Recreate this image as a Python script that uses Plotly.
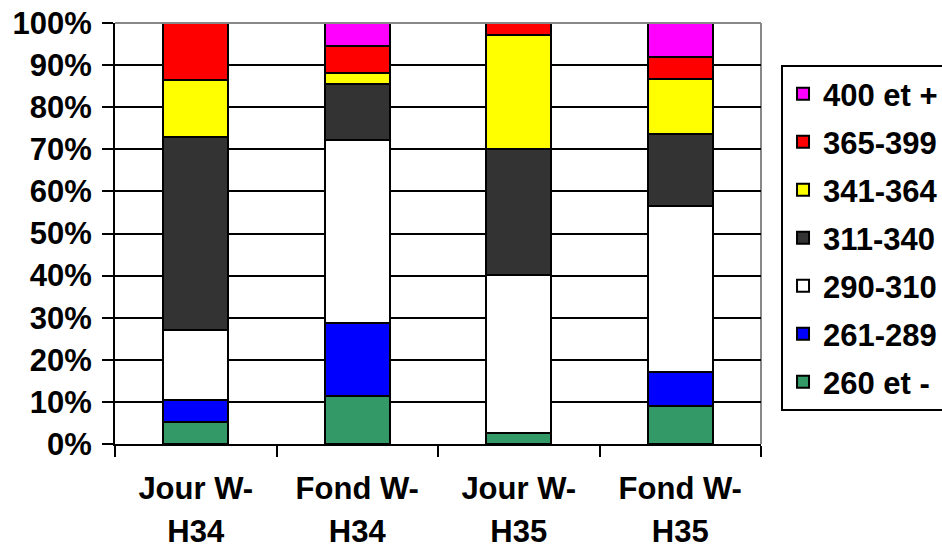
import plotly.graph_objects as go

categories = ["Jour W-<br>H34", "Fond W-<br>H34", "Jour W-<br>H35", "Fond W-<br>H35"]
series_names = ["260 et -", "261-289", "290-310", "311-340", "341-364", "365-399", "400 et +"]
v_260 = [5.2, 11.5, 2.5, 9.0]
v_261_289 = [5.3, 17.3, 0.0, 8.0]
v_290_310 = [16.5, 43.4, 37.7, 39.5]
v_311_340 = [45.9, 13.2, 29.9, 17.1]
v_341_364 = [13.5, 2.7, 27.1, 13.2]
v_365_399 = [13.6, 6.5, 2.8, 5.2]
v_400 = [0.0, 5.4, 0.0, 8.0]
y_ticks = [0, 10, 20, 30, 40, 50, 60, 70, 80, 90, 100]

series_values = [v_260, v_261_289, v_290_310, v_311_340, v_341_364, v_365_399, v_400]
colors = ["#339966", "#0000FF", "#FFFFFF", "#333333", "#FFFF00", "#FF0000", "#FF00FF"]

FAMILY = "Liberation Sans, Arial, sans-serif"
FONT = dict(family=FAMILY, size=31, color="black", weight="bold")
XFONT = dict(family=FAMILY, size=33, color="black", weight="bold")

fig = go.Figure()
n = len(series_names)
for i, (name, vals, col) in enumerate(zip(series_names, series_values, colors)):
    fig.add_trace(go.Bar(
        x=categories, y=vals, name=name, legendgroup=name, legendrank=n - i,
        marker=dict(color=col, line=dict(color="black", width=2)),
    ))

fig.update_layout(
    width=942, height=548,
    margin=dict(l=115, r=181, t=23, b=104, autoexpand=False),
    barmode="stack", bargap=0.6,
    plot_bgcolor="white", paper_bgcolor="white",
    font=FONT,
    showlegend=True,
    legend=dict(
        x=1.031, y=0.9, xanchor="left", yanchor="top",
        bordercolor="black", borderwidth=2, bgcolor="white",
        traceorder="grouped", tracegroupgap=4.7,
        font=FONT,
    ),
    xaxis=dict(
        showline=True, linecolor="black", linewidth=2,
        ticks="outside", tickson="boundaries", ticklen=11, tickwidth=2, tickcolor="black",
        showgrid=False, tickfont=XFONT, ticklabelstandoff=13,
        tickvals=categories,
        ticktext=["<br>".join(f"<span style='font-size:31px'>{p}</span>" for p in c.split("<br>"))
                  for c in categories],
    ),
    yaxis=dict(
        range=[0, 100], tickvals=y_ticks, ticktext=[f"{v}%" for v in y_ticks],
        showline=True, linecolor="black", linewidth=2,
        ticks="outside", ticklen=11, tickwidth=2, tickcolor="black",
        showgrid=True, gridcolor="black", gridwidth=1.5,
        zeroline=False, tickfont=FONT, ticklabelstandoff=4,
        ticklabeloverflow="allow",
    ),
    shapes=[
        dict(type="line", xref="paper", yref="paper", x0=0, x1=1, y0=1, y1=1,
             line=dict(color="#888888", width=2), layer="above"),
        dict(type="line", xref="paper", yref="paper", x0=1, x1=1, y0=0, y1=1,
             line=dict(color="#888888", width=2), layer="below"),
    ],
)

fig.write_html(
    "out.html",
    config={"displayModeBar": False},
    post_script="document.body.style.margin='0';document.body.style.overflow='hidden';",
)
